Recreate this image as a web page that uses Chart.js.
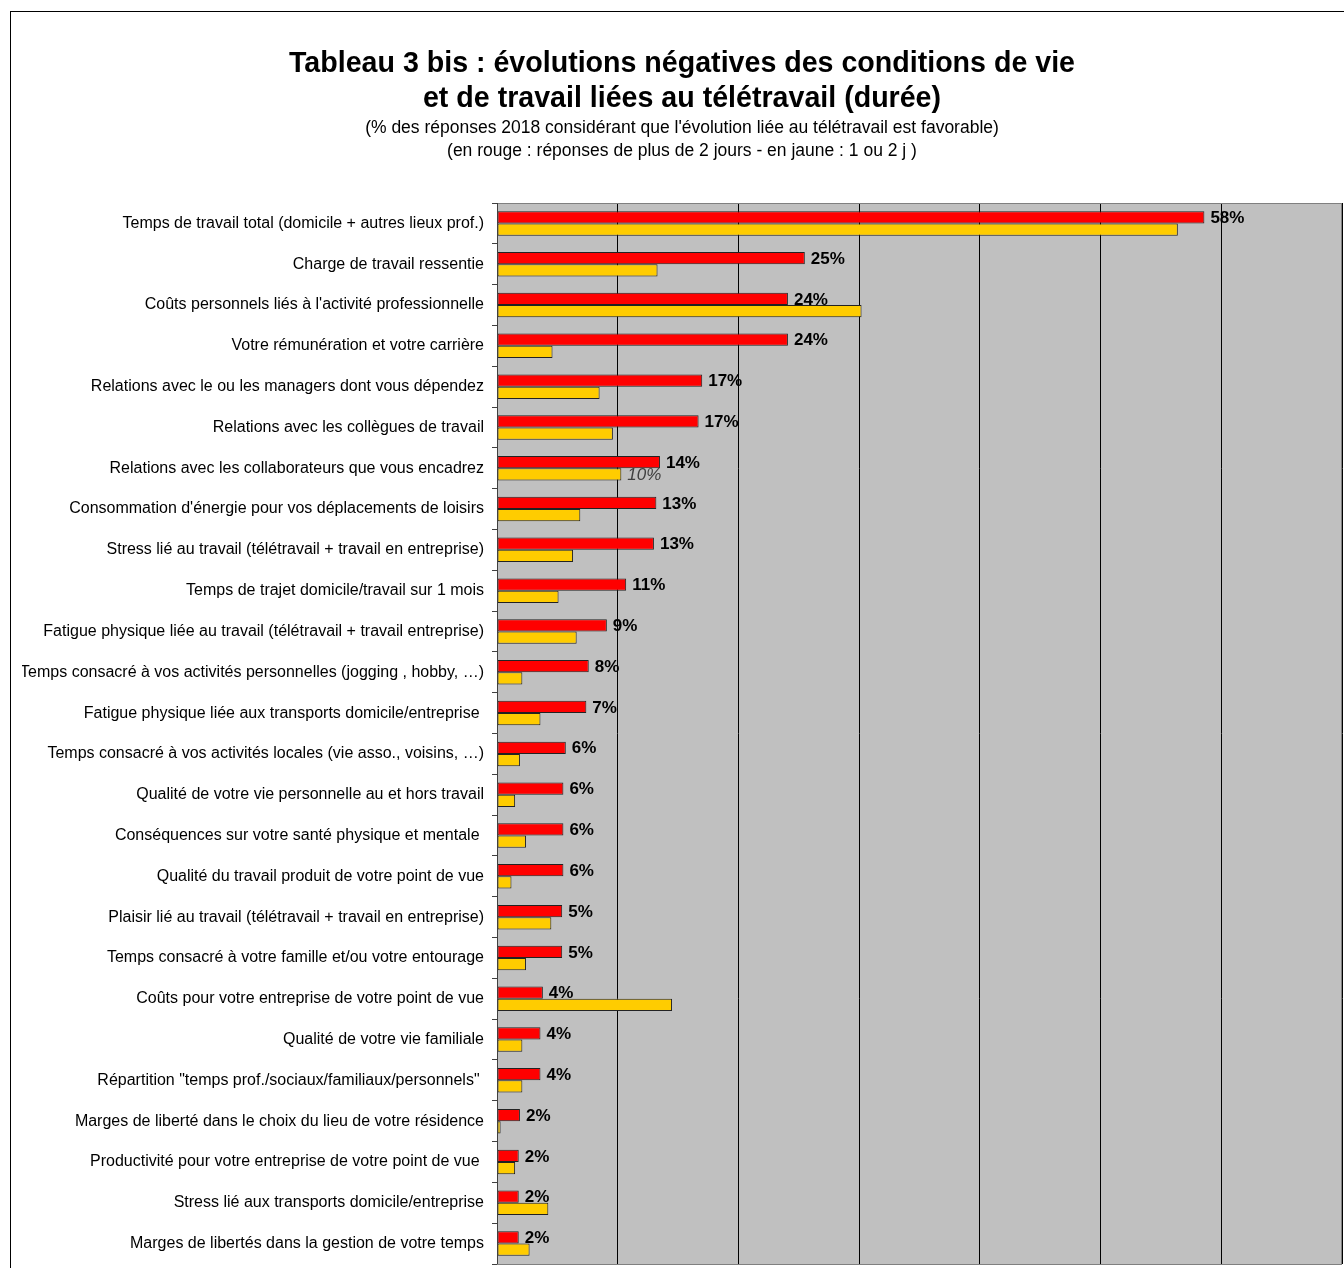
<!DOCTYPE html>
<html lang="fr">
<head>
<meta charset="utf-8">
<title>Tableau 3 bis</title>
<script src="https://cdn.jsdelivr.net/npm/chart.js@4"></script>
<style>
  html, body { margin: 0; padding: 0; background: #fff; overflow: hidden; width: 1344px; height: 1268px; }
  canvas { display: block; }
</style>
</head>
<body>
<canvas id="graphique" width="1364" height="1268"></canvas>
<script>
// Libellés des catégories (de haut en bas)
const categories = [
    'Temps de travail total (domicile + autres lieux prof.)',
    'Charge de travail ressentie',
    "Coûts personnels liés à l'activité professionnelle",
    'Votre rémunération et votre carrière',
    'Relations avec le ou les managers dont vous dépendez',
    'Relations avec les collègues de travail',
    'Relations avec les collaborateurs que vous encadrez',
    "Consommation d'énergie pour vos déplacements de loisirs",
    'Stress lié au travail (télétravail + travail en entreprise)',
    'Temps de trajet domicile/travail sur 1 mois',
    'Fatigue physique liée au travail (télétravail + travail entreprise)',
    'Temps consacré à vos activités personnelles (jogging , hobby, …)',
    'Fatigue physique liée aux transports domicile/entreprise ',
    'Temps consacré à vos activités locales (vie asso., voisins, …)',
    'Qualité de votre vie personnelle au et hors travail',
    'Conséquences sur votre santé physique et mentale ',
    'Qualité du travail produit de votre point de vue',
    'Plaisir lié au travail (télétravail + travail en entreprise)',
    'Temps consacré à votre famille et/ou votre entourage',
    'Coûts pour votre entreprise de votre point de vue',
    'Qualité de votre vie familiale',
    'Répartition "temps prof./sociaux/familiaux/personnels" ',
    'Marges de liberté dans le choix du lieu de votre résidence',
    'Productivité pour votre entreprise de votre point de vue ',
    'Stress lié aux transports domicile/entreprise',
    'Marges de libertés dans la gestion de votre temps'
];

// En rouge : plus de 2 jours
const plusDe2Jours = [58.6, 25.5, 24.1, 24.1, 17.0, 16.7, 13.5, 13.2, 13.0, 10.7, 9.1, 7.6, 7.4,
    5.7, 5.5, 5.5, 5.5, 5.4, 5.4, 3.8, 3.6, 3.6, 1.9, 1.8, 1.8, 1.8];
const etiquettesRouge = ['58%', '25%', '24%', '24%', '17%', '17%', '14%', '13%', '13%', '11%', '9%', '8%', '7%',
    '6%', '6%', '6%', '6%', '5%', '5%', '4%', '4%', '4%', '2%', '2%', '2%', '2%'];

// En jaune : 1 ou 2 jours
const unOuDeuxJours = [56.4, 13.3, 30.2, 4.6, 8.5, 9.6, 10.3, 6.9, 6.3, 5.1, 6.6, 2.1, 3.6,
    1.9, 1.5, 2.4, 1.2, 4.5, 2.4, 14.5, 2.1, 2.1, 0.3, 1.5, 4.25, 2.7];
const etiquettesJaune = ['', '', '', '', '', '', '10%', '', '', '', '', '', '',
    '', '', '', '', '', '', '', '', '', '', '', '', ''];

const ticksX = [0, 10, 20, 30, 40, 50, 60, 70];

const police = "'Liberation Sans', Arial, sans-serif";

// Fond gris de la zone de tracé + cadre du graphique
const fondGris = {
    id: 'fondGris',
    beforeDraw(chart) {
        const ctx = chart.ctx;
        const a = chart.chartArea;
        ctx.save();
        ctx.fillStyle = '#C0C0C0';
        ctx.fillRect(a.left, a.top, a.right - a.left, a.bottom - a.top);
        ctx.strokeStyle = '#000';
        ctx.lineWidth = 1;
        ctx.strokeRect(10.5, 11.5, 1343, 1300);
        ctx.restore();
    },
    afterDraw(chart) {
        const ctx = chart.ctx;
        const a = chart.chartArea;
        ctx.save();
        ctx.strokeStyle = '#808080';
        ctx.lineWidth = 1;
        ctx.strokeRect(a.left + 0.5, a.top + 0.5, a.right - a.left - 1, a.bottom - a.top);
        ctx.strokeStyle = '#404040';
        ctx.beginPath();
        ctx.moveTo(a.left + 0.5, a.top);
        ctx.lineTo(a.left + 0.5, a.bottom);
        ctx.stroke();
        ctx.restore();
    }
};

// Étiquettes de valeurs à droite des barres
const etiquettes = {
    id: 'etiquettes',
    afterDatasetsDraw(chart) {
        const ctx = chart.ctx;
        ctx.save();
        ctx.textAlign = 'left';
        ctx.textBaseline = 'middle';
        chart.getDatasetMeta(0).data.forEach((barre, i) => {
            ctx.font = 'bold 17px ' + police;
            ctx.fillStyle = '#000';
            ctx.fillText(etiquettesRouge[i], barre.x + 6, barre.y + 1);
        });
        chart.getDatasetMeta(1).data.forEach((barre, i) => {
            if (!etiquettesJaune[i]) return;
            ctx.font = 'italic 17px ' + police;
            ctx.fillStyle = '#404040';
            ctx.fillText(etiquettesJaune[i], barre.x + 6, barre.y + 1);
        });
        ctx.restore();
    }
};

const ctx = document.getElementById('graphique').getContext('2d');
new Chart(ctx, {
    type: 'bar',
    data: {
        labels: categories,
        datasets: [{
            label: 'plus de 2 jours',
            data: plusDe2Jours,
            backgroundColor: '#FF0000',
            borderColor: '#222222',
            borderWidth: 1,
            borderSkipped: false,
            categoryPercentage: 0.6,
            barPercentage: 1.0
        }, {
            label: '1 ou 2 jours',
            data: unOuDeuxJours,
            backgroundColor: '#FFCC00',
            borderColor: '#222222',
            borderWidth: 1,
            borderSkipped: false,
            categoryPercentage: 0.6,
            barPercentage: 1.0
        }]
    },
    options: {
        indexAxis: 'y',
        responsive: false,
        animation: false,
        devicePixelRatio: 1,
        layout: {
            padding: { top: 0, left: 22, right: 22, bottom: 4 }
        },
        plugins: {
            legend: { display: false },
            tooltip: { enabled: false },
            title: {
                display: true,
                text: ['Tableau 3 bis : évolutions négatives des conditions de vie',
                       'et de travail liées au télétravail (durée)'],
                color: '#000',
                font: { family: police, size: 28.6, weight: 'bold', lineHeight: '35px' },
                padding: { top: 47, bottom: 0 }
            },
            subtitle: {
                display: true,
                text: ["(% des réponses 2018 considérant que l'évolution liée au télétravail est favorable)",
                       '(en rouge : réponses de plus de 2 jours - en jaune : 1 ou 2 j )'],
                color: '#000',
                font: { family: police, size: 17.5, lineHeight: '23px' },
                padding: { top: 0, bottom: 40 }
            }
        },
        scales: {
            x: {
                min: ticksX[0],
                max: ticksX[ticksX.length - 1],
                afterBuildTicks: (axe) => { axe.ticks = ticksX.map(v => ({ value: v })); },
                afterFit: (axe) => { axe.height = 0; },
                ticks: { display: false },
                grid: { color: '#000', lineWidth: 1, drawTicks: false },
                border: { display: false }
            },
            y: {
                afterFit: (axe) => {
                    axe.width = 475;
                    axe.paddingTop = 0;
                    axe.paddingBottom = 0;
                },
                ticks: {
                    autoSkip: false,
                    padding: 8,
                    color: '#000',
                    font: { family: police, size: 16 }
                },
                grid: {
                    drawOnChartArea: false,
                    drawTicks: true,
                    tickLength: 5,
                    color: '#404040'
                },
                border: { display: false }
            }
        }
    },
    plugins: [fondGris, etiquettes]
});
</script>
</body>
</html>
